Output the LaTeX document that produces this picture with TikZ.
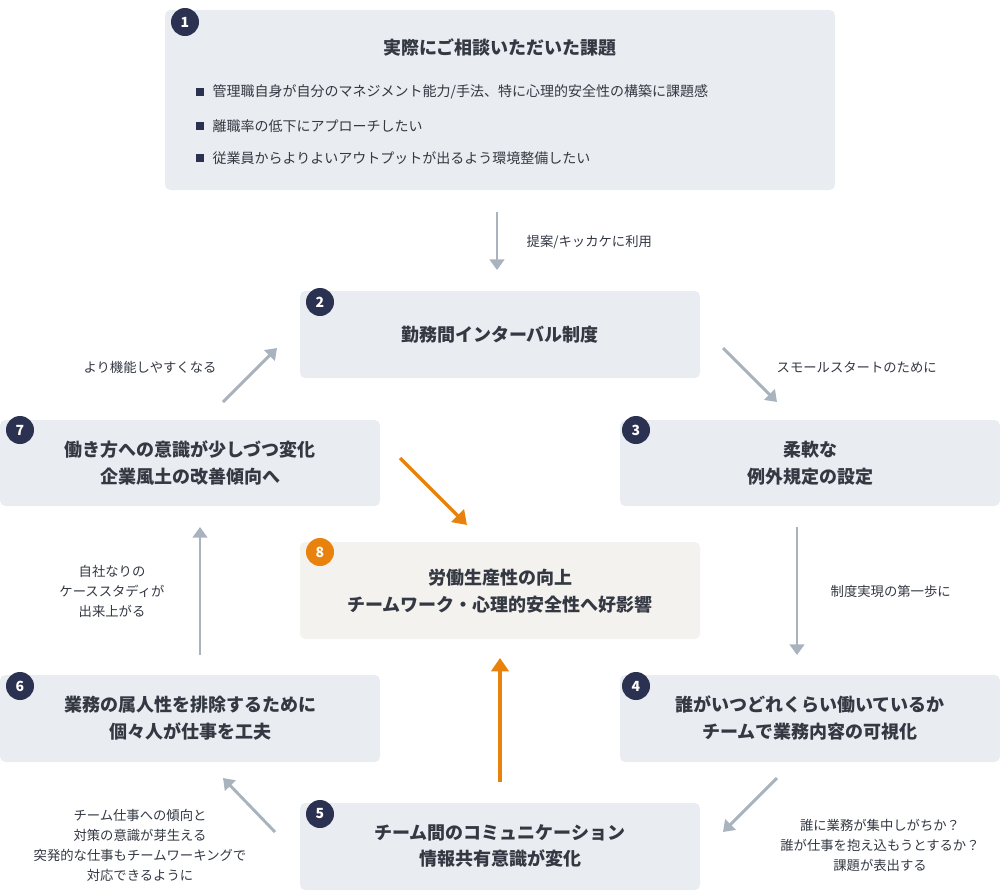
\documentclass[tikz,border=0pt]{standalone}
\usepackage{fontspec}
\setmainfont{Noto Sans CJK JP}
\usetikzlibrary{positioning}
\usetikzlibrary{arrows.meta}
\definecolor{boxgray}{HTML}{E9ECF0}
\definecolor{boxbeige}{HTML}{F4F2EE}
\definecolor{navy}{HTML}{2B3150}
\definecolor{accent}{HTML}{E8820C}
\definecolor{arrowgray}{HTML}{A9B3BE}
\definecolor{ink}{HTML}{333842}
\tikzset{badge/.style={circle, fill=navy, text=white, minimum size=21pt, inner sep=0pt, font=\bfseries\fontsize{10.5}{12}\selectfont},
  title/.style={text=ink, align=center, font=\bfseries\fontsize{13.5}{20}\selectfont},
  note/.style={text=ink, align=center, font=\fontsize{10}{15}\selectfont},
  bullet/.style={text=ink, font=\fontsize{10.5}{15}\selectfont},
  flow/.style={draw=arrowgray, line width=2.2pt, -{Triangle[length=8pt,width=11pt]}},
  hot/.style={draw=accent, line width=2.6pt, -{Triangle[length=10pt,width=13pt]}}}
\begin{document}
\begin{tikzpicture}[x=0.75pt,y=-0.75pt]
\useasboundingbox (0,0) rectangle (1000,893);
% boxes
\fill[boxgray, rounded corners=4pt] (165,10) rectangle (835,190);
\fill[boxgray, rounded corners=4pt] (300,291) rectangle (700,378);
\fill[boxgray, rounded corners=4pt] (620,420) rectangle (1000,506);
\fill[boxgray, rounded corners=4pt] (0,420) rectangle (380,506);
\fill[boxbeige, rounded corners=4pt] (300,542) rectangle (700,639);
\fill[boxgray, rounded corners=4pt] (0,675) rectangle (380,762);
\fill[boxgray, rounded corners=4pt] (620,675) rectangle (1000,762);
\fill[boxgray, rounded corners=4pt] (300,803) rectangle (700,890);
% texts
\node[title] (t1) at (500,48) {実際にご相談いただいた課題};
\foreach \y/\s in {92/{管理職自身が自分のマネジメント能力/手法、特に心理的安全性の構築に課題感},
  126/{離職率の低下にアプローチしたい},
  158/{従業員からよりよいアウトプットが出るよう環境整備したい}}{
  \fill[navy] (196,\y-4) rectangle (204,\y+4);
  \node[bullet, anchor=west] at (208,\y) {\s};
}
\node[title] (t2) at (500,335) {勤務間インターバル制度};
\node[title] (t3) at (810,463) {柔軟な\\例外規定の設定};
\node[title] (t7) at (190,463) {働き方への意識が少しづつ変化\\企業風土の改善傾向へ};
\node[title] (t8) at (500,591) {労働生産性の向上\\チームワーク・心理的安全性へ好影響};
\node[title] (t6) at (190,718) {業務の属人性を排除するために\\個々人が仕事を工夫};
\node[title] (t4) at (810,718) {誰がいつどれくらい働いているか\\チームで業務内容の可視化};
\node[title] (t5) at (500,846) {チーム間のコミュニケーション\\情報共有意識が変化};
% badges
\node[badge] (b1) at (185,22) {1};
\node[badge] (b2) at (320,302) {2};
\node[badge] (b3) at (636,430) {3};
\node[badge] (b7) at (20,430) {7};
\node[badge, fill=accent] (b8) at (320,552) {8};
\node[badge] (b6) at (20,686) {6};
\node[badge] (b4) at (636,686) {4};
\node[badge] (b5) at (320,814) {5};
% connectors
\coordinate (a1s) at (497,212); \coordinate (a1e) at (497,270);
\coordinate (a2s) at (723,348); \coordinate (a2e) at (777,402);
\coordinate (a3s) at (797,527); \coordinate (a3e) at (797,655);
\coordinate (a4s) at (777,778); \coordinate (a4e) at (723,832);
\coordinate (a5s) at (275,832); \coordinate (a5e) at (223,778);
\coordinate (a6s) at (200,655); \coordinate (a6e) at (200,527);
\coordinate (a7s) at (223,402); \coordinate (a7e) at (277,348);
\coordinate (h1s) at (400,458); \coordinate (h1e) at (467,525);
\coordinate (h2s) at (500,782); \coordinate (h2e) at (500,658);
\foreach \n in {a1,a2,a3,a4,a5,a6,a7}{\draw[flow] (\n s) -- (\n e);}
\draw[hot] (h1s) -- (h1e);
\draw[hot] (h2s) -- (h2e);
% connector labels
\node[note, anchor=west] (l1) at (522,242) {提案/キッカケに利用};
\node[note, anchor=west] (l2) at (772,367) {スモールスタートのために};
\node[note, anchor=west] (l3) at (826,591) {制度実現の第一歩に};
\node[note] (l4) at (880,845) {誰に業務が集中しがちか？\\誰が仕事を抱え込もうとするか？\\課題が表出する};
\node[note] (l5) at (140,845) {チーム仕事への傾向と\\対策の意識が芽生える\\突発的な仕事もチームワーキングで\\対応できるように};
\node[note] (l6) at (112,591) {自社なりの\\ケーススタディが\\出来上がる};
\node[note] (l7) at (150,367) {より機能しやすくなる};
\end{tikzpicture}
\end{document}
